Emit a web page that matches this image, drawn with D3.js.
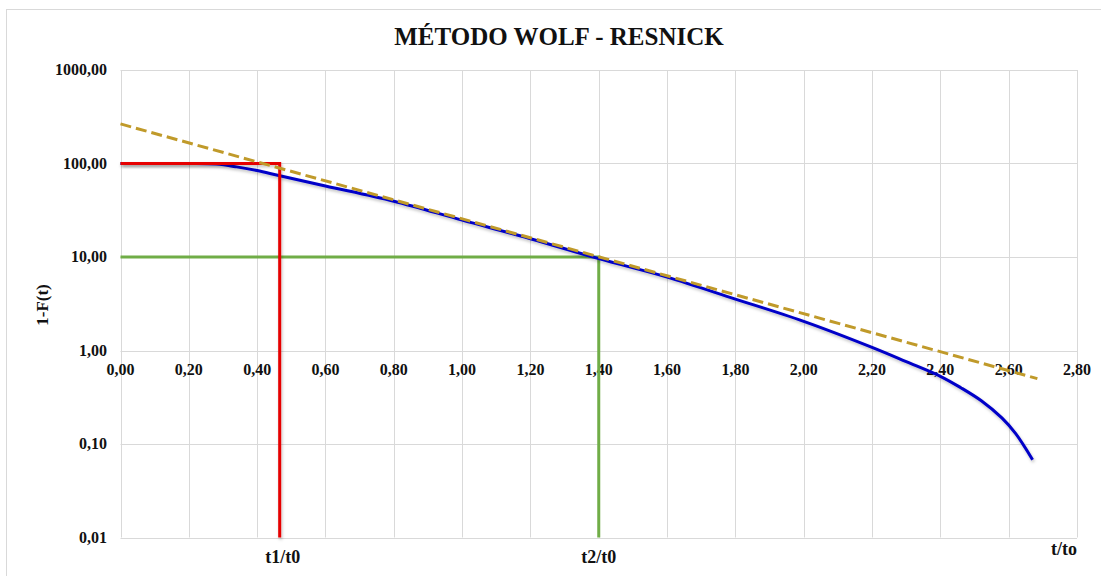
<!DOCTYPE html>
<html>
<head>
<meta charset="utf-8">
<script src="https://cdn.jsdelivr.net/npm/d3@7"></script>
<style>
    body { margin: 0; background: #fff; }
</style>
</head>
<body>
<svg id="canvas"></svg>
<script>
// chart data
const T_VALUES = [0, 0.10, 0.20, 0.28, 0.34, 0.40, 0.46, 0.60, 0.80, 1.00, 1.20, 1.40, 1.60, 1.80, 2.00, 2.20, 2.30, 2.40, 2.46, 2.52, 2.58, 2.62, 2.67];
const F_VALUES = [100, 100, 100, 98.5, 92, 84, 75, 57.5, 39.5, 24.8, 15.7, 9.6, 6.1, 3.55, 2.05, 1.08, 0.76, 0.53, 0.40, 0.29, 0.19, 0.13, 0.068];
const TREND_T = [0, 2.684];
const TREND_F = [265, 0.5];
const T1 = 0.466;
const F1 = 100;
const T2 = 1.40;
const F2 = 10;
const X_TICKS = [0, 0.2, 0.4, 0.6, 0.8, 1.0, 1.2, 1.4, 1.6, 1.8, 2.0, 2.2, 2.4, 2.6, 2.8];
const Y_TICKS = [0.01, 0.1, 1, 10, 100, 1000];
const TITLE = "MÉTODO WOLF - RESNICK";
const Y_TITLE = "1-F(t)";
const X_TITLE = "t/to";
const T1_LABEL = "t1/t0";
const T2_LABEL = "t2/t0";

(() => {

    const WIDTH = 1101;
    const HEIGHT = 576;
    const LEFT = 120.5;
    const RIGHT = 1077;
    const TOP = 70;
    const BOTTOM = 537.5;
    const GRID_COLOR = "#d9d9d9";
    const FONT = "'Liberation Serif', 'Times New Roman', 'DejaVu Serif', serif";

    let locale = d3.formatLocale({ decimal: ",", thousands: ".", grouping: [3], currency: ["", ""] });
    let fmt = locale.format(".2f");

    let x = d3.scaleLinear().domain([0, 2.8]).range([LEFT, RIGHT]);
    let y = d3.scaleLog().domain([0.01, 1000]).range([BOTTOM, TOP]);

    let svg = d3.select("#canvas")
        .attr("width", WIDTH)
        .attr("height", HEIGHT)
        .attr("font-family", FONT)
        .attr("font-weight", "bold");

    let defs = svg.append("defs");
    defs.append("filter")
        .attr("id", "shadow")
        .attr("x", "-5%").attr("y", "-5%")
        .attr("width", "110%").attr("height", "110%")
        .append("feDropShadow")
        .attr("dx", 1).attr("dy", 2)
        .attr("stdDeviation", 1.5)
        .attr("flood-color", "#000")
        .attr("flood-opacity", 0.25);

    // chart frame
    svg.append("rect")
        .attr("x", 6.5).attr("y", 9.5)
        .attr("width", WIDTH).attr("height", HEIGHT)
        .attr("fill", "none")
        .attr("stroke", "#d9d9d9");

    function label(txt, px, py, size, anchor) {
        return svg.append("text")
            .attr("x", px).attr("y", py)
            .attr("text-anchor", anchor)
            .attr("font-family", FONT)
            .attr("font-weight", "bold")
            .attr("fill", "#111")
            .style("font-size", size + "px")
            .text(txt);
    }

    label(TITLE, 559, 45, 25, "middle");

    // grid
    svg.append("g").selectAll("line").data(X_TICKS).join("line")
        .attr("x1", d => Math.round(x(d)) + 0.5).attr("x2", d => Math.round(x(d)) + 0.5)
        .attr("y1", TOP).attr("y2", BOTTOM)
        .attr("stroke", GRID_COLOR);
    svg.append("g").selectAll("line").data(Y_TICKS).join("line")
        .attr("x1", LEFT).attr("x2", RIGHT)
        .attr("y1", d => Math.round(y(d)) + 0.5).attr("y2", d => Math.round(y(d)) + 0.5)
        .attr("stroke", GRID_COLOR);

    // tick labels
    Y_TICKS.forEach(d => label(fmt(d), 107, y(d) + 5, 16, "end"));
    X_TICKS.forEach(d => label(fmt(d), x(d), y(1) + 24, 16, "middle"));

    label(Y_TITLE, 0, 0, 17, "middle")
        .attr("transform", "translate(48, 305) rotate(-90)");
    label(X_TITLE, RIGHT, 555, 18, "end");
    label(T1_LABEL, x(T1) + 3, 563, 18, "middle");
    label(T2_LABEL, x(T2), 563, 18, "middle");

    let line = d3.line().x(d => x(d[0])).y(d => y(d[1]));

    // green reference at t2
    svg.append("path")
        .datum([[0, F2], [T2, F2], [T2, 0.01]])
        .attr("d", line)
        .attr("fill", "none")
        .attr("stroke", "#70ad47")
        .attr("stroke-width", 3);

    // blue curve
    let curve = T_VALUES.map((t, i) => [t, F_VALUES[i]]);
    svg.append("path")
        .datum(curve)
        .attr("d", d3.line().x(d => x(d[0])).y(d => y(d[1])).curve(d3.curveCatmullRom))
        .attr("fill", "none")
        .attr("stroke", "#0000c8")
        .attr("stroke-width", 3)
        .attr("filter", "url(#shadow)");

    // red reference at t1
    svg.append("path")
        .datum([[0, F1], [T1, F1], [T1, 0.01]])
        .attr("d", line)
        .attr("fill", "none")
        .attr("stroke", "#e60000")
        .attr("stroke-width", 3)
        .attr("filter", "url(#shadow)");

    // dashed trend
    svg.append("path")
        .datum(TREND_T.map((t, i) => [t, TREND_F[i]]))
        .attr("d", line)
        .attr("fill", "none")
        .attr("stroke", "#c09a2a")
        .attr("stroke-width", 3)
        .attr("stroke-dasharray", "11,5");

})();
</script>
</body>
</html>
